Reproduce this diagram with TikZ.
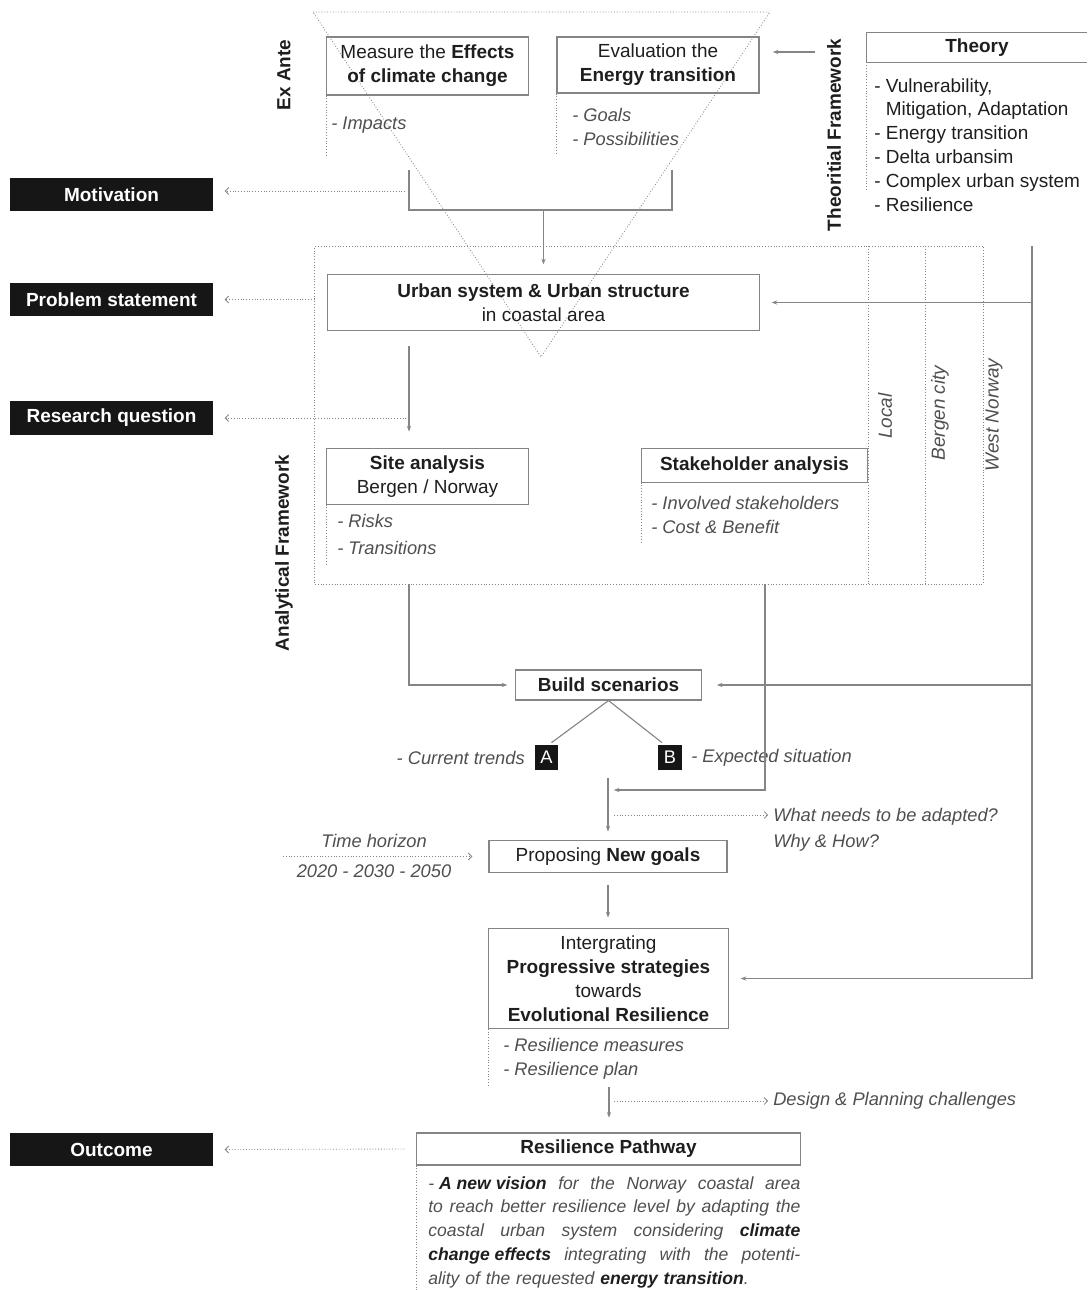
\documentclass[tikz,border=0pt]{standalone}
\usepackage{fontspec}
\setmainfont{Liberation Sans}
\usepackage{xcolor}
\usepackage{tikz}
\usetikzlibrary{arrows.meta,positioning,calc}

\definecolor{inkc}{HTML}{1E1E1E}
\definecolor{linec}{HTML}{858585}
\definecolor{notec}{HTML}{4F4F4F}
\definecolor{blkc}{HTML}{161616}

\newcommand{\visline}[1]{\makebox[9.3cm][s]{\spaceskip=0.28em plus 1fil #1}}
\newcommand{\visbold}[1]{\mbox{\textcolor{inkc}{\textbf{#1}}}}

\begin{document}
\begin{tikzpicture}[
    x=0.025cm, y=-0.025cm,
    font=\fontsize{13.5}{17}\selectfont, text=inkc,
    box/.style={draw=linec, line width=0.8pt, align=center, inner sep=1pt},
    tag/.style={fill=blkc, text=white, font=\fontsize{13.5}{16}\selectfont\bfseries,
                minimum width=5.08cm, minimum height=0.83cm},
    abtag/.style={fill=blkc, text=white, font=\fontsize{13}{13}\selectfont,
                minimum width=0.58cm, minimum height=0.63cm, inner sep=0pt},
    note/.style={align=left, text=notec, font=\fontsize{13}{17}\selectfont\itshape,
                 anchor=north west, inner sep=0pt},
    list/.style={note, text=inkc, font=\fontsize{13.5}{17}\selectfont},
    side/.style={rotate=90, font=\fontsize{13.5}{16}\selectfont\bfseries},
    level/.style={rotate=90, text=notec, font=\fontsize{13.5}{16}\selectfont\itshape},
    line/.style={draw=linec, line width=0.8pt},
    arr/.style={line, -{Stealth[length=4pt, width=3pt]}},
    dotline/.style={draw=linec, line width=0.6pt, dash pattern=on 0.6pt off 1.4pt},
    dotarr/.style={dotline, -{Straight Barb[length=2.5pt, width=5pt]}}
]
\useasboundingbox (0,0) rectangle (1087,1290);

% ex ante funnel
\draw[dotline] (313,12) -- (770,12) -- (541,357) -- cycle;

\node[box, minimum width=5.03cm, minimum height=1.45cm] (effects) at (427.5,66)
    {Measure the \textbf{Effects}\\\textbf{of climate change}};
\node[box, minimum width=5.05cm, minimum height=1.4cm] (energy) at (658,65)
    {Evaluation the\\\textbf{Energy transition}};
\node[note, anchor=west] (impacts) at (331,125) {- Impacts};
\node[note] (goalslist) at (572,108) {- Goals\\- Possibilities};
\draw[dotline] (effects.south west) -- ++(0,61);
\draw[dotline] (energy.south west) -- ++(0,60);

\node[side] (exante) at (284,75) {Ex Ante};
\node[side] (theofw) at (834,135) {Theoritial Framework};
\node[side] (anafw) at (284,553) {Analytical Framework};

% theory
\node[minimum width=5.5cm, minimum height=0.73cm, font=\fontsize{13.5}{16}\selectfont\bfseries]
    (theory) at (977,47.5) {Theory};
\draw[line] (theory.north east) -- (theory.north west) -- (theory.south west) -- (theory.south east);
\draw[dotline] (theory.south west) -- ++(0,128);
\node[list] (theorylist) at (874,78)
    {- Vulnerability,\\\phantom{- }Mitigation, Adaptation\\- Energy transition\\- Delta urbansim\\- Complex urban system\\- Resilience};

% black tags
\node[tag] (motiv) at (111.5,194.5) {Motivation};
\node[tag] (problem) at (111.5,299.5) {Problem statement};
\node[tag] (research) at (111.5,418) {Research question};
\node[tag] (outcome) at (111.5,1149.5) {Outcome};

% analytical framework
\node[dotline, minimum width=16.7cm, minimum height=8.45cm] (anaframe) at (649,415) {};
\draw[dotline] (868,246) -- (868,584);
\draw[dotline] (925,246) -- (925,584);
\node[level] (lvlloc) at (885,416) {Local};
\node[level] (lvlcity) at (940,413) {Bergen city};
\node[level] (lvlwest) at (994,415) {West Norway};

\node[box, minimum width=10.78cm, minimum height=1.38cm] (urban) at (543.5,302.5)
    {\textbf{Urban system \& Urban structure}\\in coastal area};
\node[box, minimum width=5.03cm, minimum height=1.38cm] (site) at (427.5,476.5)
    {\textbf{Site analysis}\\Bergen / Norway};
\node[note, font=\fontsize{13}{19.2}\selectfont\itshape] (risks) at (337,514) {- Risks\\- Transitions};
\draw[dotline] (site.south west) -- ++(0,61);
\node[box, minimum width=5.63cm, minimum height=0.83cm] (stake) at (754.5,465.5)
    {\textbf{Stakeholder analysis}};
\node[note] (stakelist) at (651,496) {- Involved stakeholders\\- Cost \& Benefit};
\draw[dotline] (stake.south west) -- ++(0,61);

% scenarios and goals
\node[box, minimum width=4.63cm, minimum height=0.75cm] (build) at (608.5,685) {\textbf{Build scenarios}};
\node[abtag] (abox) at (546.5,757.5) {A};
\node[abtag] (bbox) at (670,757.5) {B};
\node[note, anchor=east] (curr) at (525,758) {- Current trends};
\node[note, anchor=west] (expt) at (691,758) {- Expected situation};
\node[box, minimum width=5.95cm, minimum height=0.78cm] (goals) at (608,856.5) {Proposing \textbf{New goals}};
\node[note, font=\fontsize{13}{18.5}\selectfont\itshape] (adapt) at (773,808)
    {What needs to be adapted?\\Why \& How?};
\node[note, align=center, anchor=center, font=\fontsize{13}{21.3}\selectfont\itshape] (horizon) at (374,856)
    {Time horizon\\2020 - 2030 - 2050};
\node[box, minimum width=5.98cm, minimum height=2.48cm] (integr) at (608.5,978.5)
    {Intergrating\\\textbf{Progressive strategies}\\towards\\\textbf{Evolutional Resilience}};
\node[note] (reslist) at (503,1038) {- Resilience measures\\- Resilience plan};
\draw[dotline] (integr.south west) -- ++(0,57);
\node[note, anchor=west] (design) at (773,1101) {Design \& Planning challenges};

% outcome
\node[box, minimum width=9.58cm, minimum height=0.8cm] (pathway) at (608.5,1149) {\textbf{Resilience Pathway}};
\draw[dotline] (pathway.south west) -- ++(0,125);
\node[note, text width=9.3cm, font=\fontsize{12.5}{17}\selectfont\itshape] (vision) at (428,1176)
    {\visline{\mbox{- \visbold{A new vision}} for the Norway coastal area}\\
     \visline{to reach better resilience level by adapting the}\\
     \visline{coastal urban system considering \visbold{climate}}\\
     \visline{\visbold{change effects} integrating with the potenti-}\\
     ality of the requested \visbold{energy transition}.};

% connectors
\coordinate (tfr) at (815,52);
\draw[arr, shorten >=0.33cm] (tfr) -- (tfr -| energy.east);
\coordinate (brl) at (409,170);
\coordinate (brr) at (672,170);
\draw[line] (brl) -- ++(0,40) -| (brr);
\coordinate (brm) at (543.5,210);
\draw[arr, shorten >=0.25cm] (brm) -- (urban.north);
\coordinate (mo) at (405,191);
\draw[dotarr, shorten >=0.28cm] (mo) -- (mo -| motiv.east);
\draw[dotarr, shorten >=0.28cm] (anaframe.west |- problem.east) -- (problem.east);

\coordinate (ust) at (409,346);
\draw[arr, shorten >=0.42cm] (ust) -- (ust |- site.north);
\draw[dotarr, shorten >=0.28cm] (ust |- research.east) -- (research.east);
\draw[arr, shorten >=0.2cm] (ust |- anaframe.south) |- (build.west);

\coordinate (spine) at (1032,246);
\draw[arr, shorten >=0.3cm] (spine) |- (integr.east);
\draw[arr, shorten >=0.3cm] (spine |- urban.east) -- (urban.east);
\draw[arr, shorten >=0.38cm] (spine |- build.east) -- (build.east);

\draw[line] (build.south) -- ($(abox.north)+(5,-2)$);
\draw[line] (build.south) -- ($(bbox.north)+(-8,-2)$);

\coordinate (skd) at (765,584);
\coordinate (mid) at (609,790);
\draw[arr, shorten >=0.12cm] (skd) |- (mid);
\coordinate (scen) at (608,778);
\draw[arr, shorten >=0.22cm] (scen) -- (goals.north);
\coordinate (wq) at (614,815);
\draw[dotarr, shorten >=0.12cm] (wq) -- (wq -| adapt.west);
\coordinate (thl) at (283,856.5);
\draw[dotarr, shorten >=0.4cm] (thl) -- (goals.west);
\draw[arr, shorten <=0.32cm, shorten >=0.27cm] (goals.south) -- (goals.south |- integr.north);

\coordinate (rpt) at (609,1087);
\draw[arr, shorten >=0.37cm] (rpt) -- (rpt |- pathway.north);
\coordinate (dq) at (614,1101);
\draw[dotarr, shorten >=0.12cm] (dq) -- (dq -| design.west);
\draw[dotarr, shorten <=0.3cm, shorten >=0.28cm] (pathway.west) -- (outcome.east);
\end{tikzpicture}
\end{document}
